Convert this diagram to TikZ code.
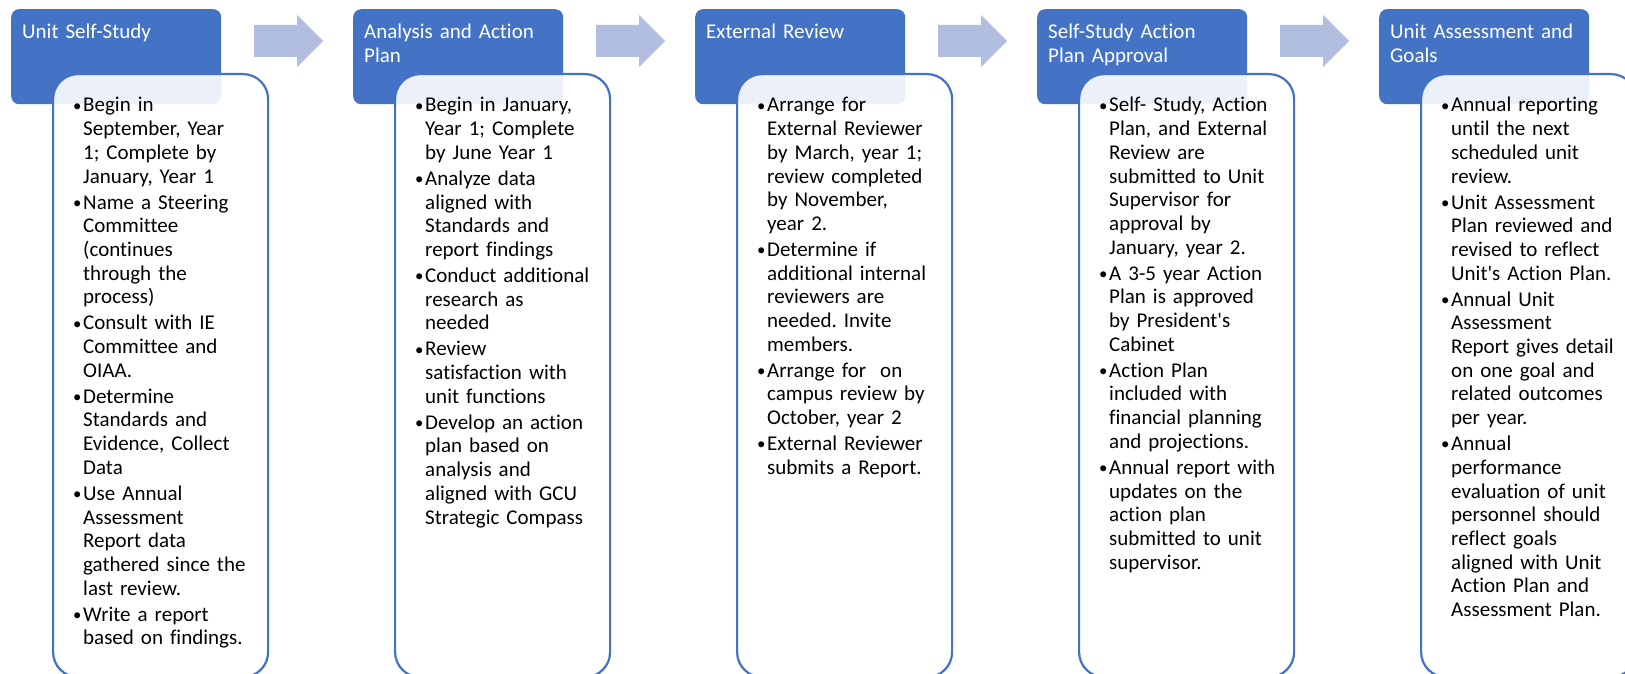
\documentclass[tikz,border=0pt]{standalone}
\usepackage{fontspec}
\usepackage{graphicx}
\setmainfont{Carlito}[Ligatures={TeX,NoCommon}]
\definecolor{hblue}{RGB}{68,114,196}
\definecolor{arrblue}{RGB}{177,190,223}
\setlength{\parskip}{0pt}
\frenchspacing
\newcommand{\bul}[1]{\noindent\hangindent=11pt\hangafter=1\makebox[10pt][c]{\raisebox{0.8pt}{\scalebox{0.8}{\textbullet}}}\hspace{1pt}#1\par\vspace{2.3pt}}
\newcommand{\apos}{\textquotesingle}
\tikzset{
  hdr/.style={fill=hblue, rounded corners=8pt, minimum width=210pt, minimum height=95pt, inner sep=0pt, anchor=north west},
  bodybox/.style={fill=white, fill opacity=0.9, draw=hblue, line width=2.2pt, rounded corners=25pt, minimum width=215pt, minimum height=603pt, inner sep=0pt, anchor=north west},
  htext/.style={text=white, text width=205pt, inner sep=0pt, anchor=base west, font=\frenchspacing\fontsize{21pt}{23.3pt}\selectfont},
  btext/.style={text=black, text width=195pt, inner sep=0pt, anchor=base west, font=\frenchspacing\fontsize{21pt}{23.7pt}\selectfont},
  blockarrow/.style={fill=arrblue}
}
\newcommand{\stage}[4]{%
  \pgfmathsetmacro{\colx}{11+342*#1}%
  \node[hdr] (h#2) at (\colx,9) {};
  \node[bodybox] (b#2) at (\colx+41,73) {};
  \node[htext] (ht#2) at (\colx+11,39) {#3};
  \node[btext] (bt#2) at (\colx+61,112) {#4};
}
\begin{document}
\begin{tikzpicture}[x=1pt,y=-1pt]
\useasboundingbox (0,0) rectangle (1625,674);
\fill[white] (0,0) rectangle (1625,674);
\clip (0,0) rectangle (1625,674);

\foreach \i in {0,...,3}{
  \pgfmathsetmacro{\ax}{11+342*\i}
  \fill[blockarrow] (\ax+243,25) -- (\ax+286,25) -- (\ax+286,15) -- (\ax+312,41) -- (\ax+286,67) -- (\ax+286,57) -- (\ax+243,57) -- cycle;
}

\stage{0}{a}{Unit Self-Study}{%
\bul{Begin in\newline September, Year\newline 1; Complete by\newline January, Year 1}%
\bul{Name a Steering\newline Committee\newline (continues\newline through the\newline process)}%
\bul{Consult with IE\newline Committee and\newline OIAA.}%
\bul{Determine\newline Standards and\newline Evidence, Collect\newline Data}%
\bul{Use Annual\newline Assessment\newline Report data\newline gathered since the\newline last review.}%
\bul{Write a report\newline based on findings.}}

\stage{1}{b}{Analysis and Action\newline Plan}{%
\bul{Begin in January,\newline Year 1; Complete\newline by June Year 1}%
\bul{Analyze data\newline aligned with\newline Standards and\newline report findings}%
\bul{Conduct additional\newline research as\newline needed}%
\bul{Review\newline satisfaction with\newline unit functions}%
\bul{Develop an action\newline plan based on\newline analysis and\newline aligned with GCU\newline Strategic Compass}}

\stage{2}{c}{External Review}{%
\bul{Arrange for\newline External Reviewer\newline by March, year 1;\newline review completed\newline by November,\newline year 2.}%
\bul{Determine if\newline additional internal\newline reviewers are\newline needed. Invite\newline members.}%
\bul{Arrange for\ \ on\newline campus review by\newline October, year 2}%
\bul{External Reviewer\newline submits a Report.}}

\stage{3}{d}{Self-Study Action\newline Plan Approval}{%
\bul{Self- Study, Action\newline Plan, and External\newline Review are\newline submitted to Unit\newline Supervisor for\newline approval by\newline January, year 2.}%
\bul{A 3-5 year Action\newline Plan is approved\newline by President\apos s\newline Cabinet}%
\bul{Action Plan\newline included with\newline financial planning\newline and projections.}%
\bul{Annual report with\newline updates on the\newline action plan\newline submitted to unit\newline supervisor.}}

\stage{4}{e}{Unit Assessment and\newline Goals}{%
\bul{Annual reporting\newline until the next\newline scheduled unit\newline review.}%
\bul{Unit Assessment\newline Plan reviewed and\newline revised to reflect\newline Unit\apos s Action Plan.}%
\bul{Annual Unit\newline Assessment\newline Report gives detail\newline on one goal and\newline related outcomes\newline per year.}%
\bul{Annual\newline performance\newline evaluation of unit\newline personnel should\newline reflect goals\newline aligned with Unit\newline Action Plan and\newline Assessment Plan.}}
\end{tikzpicture}
\end{document}
